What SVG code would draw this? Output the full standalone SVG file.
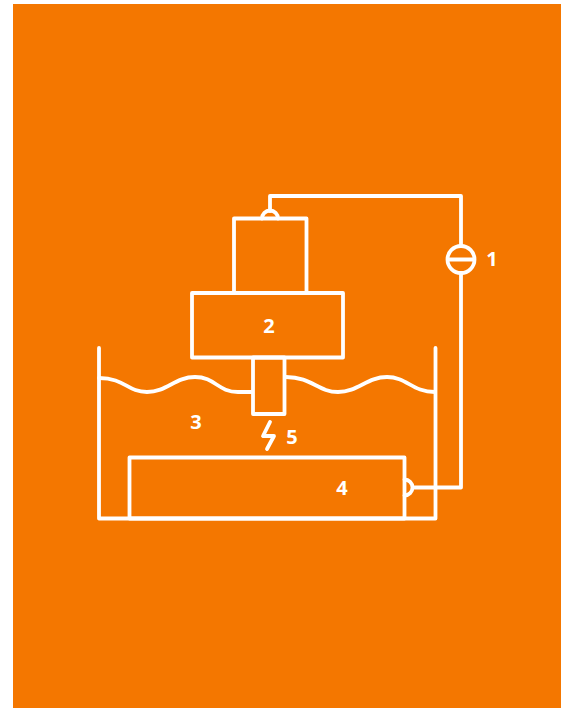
<svg xmlns="http://www.w3.org/2000/svg" width="568" height="708" viewBox="0 0 568 708">
<style>
.l{fill:none;stroke:#fff;stroke-width:3.8;stroke-linecap:round;stroke-linejoin:round}
.t{fill:#fff;font-family:"Open Sans",sans-serif;font-size:20px;font-weight:700;text-anchor:middle}
</style>
<rect width="568" height="708" fill="#fff"/>
<rect x="13" y="4" width="548" height="704" fill="#f47700"/>
<g id="connectors">
<path class="l" d="M270 211V196H461V246"/>
<path class="l" d="M461 273V487.500H413"/>
<path class="l" d="M262 218.500A8 8 0 0 1 278 218.500"/>
<path class="l" d="M404.500 479.500A8 8 0 0 1 404.500 495.500"/>
</g>
<g id="node-1"><circle class="l" cx="461" cy="259.500" r="13.500"/><path class="l" d="M448 259.500H474"/><text class="t" x="492" y="266">1</text></g>
<g id="node-2">
<rect class="l" x="234" y="218.500" width="72.500" height="74.500"/>
<rect class="l" x="192" y="293" width="151" height="64.500"/>
<rect class="l" x="253" y="357.500" width="31.500" height="56.500"/>
<text class="t" x="269" y="333">2</text>
</g>
<g id="node-3">
<path class="l" d="M99 378C125 378 127 392 147 392S175 377 195 377S218 392 238 392H252"/>
<path class="l" d="M286 377C312 377 318 392 338 392S367 377 387 377S412 392 435 392"/>
<path class="l" d="M99 348V518.500H435.500V348"/>
<text class="t" x="196" y="429">3</text>
</g>
<g id="node-4"><rect class="l" x="129.500" y="457.500" width="275" height="61"/><text class="t" x="342" y="495">4</text></g>
<g id="node-5"><path class="l" d="M270 422L263 436H274L267 449"/><text class="t" x="292" y="444">5</text></g>
</svg>
